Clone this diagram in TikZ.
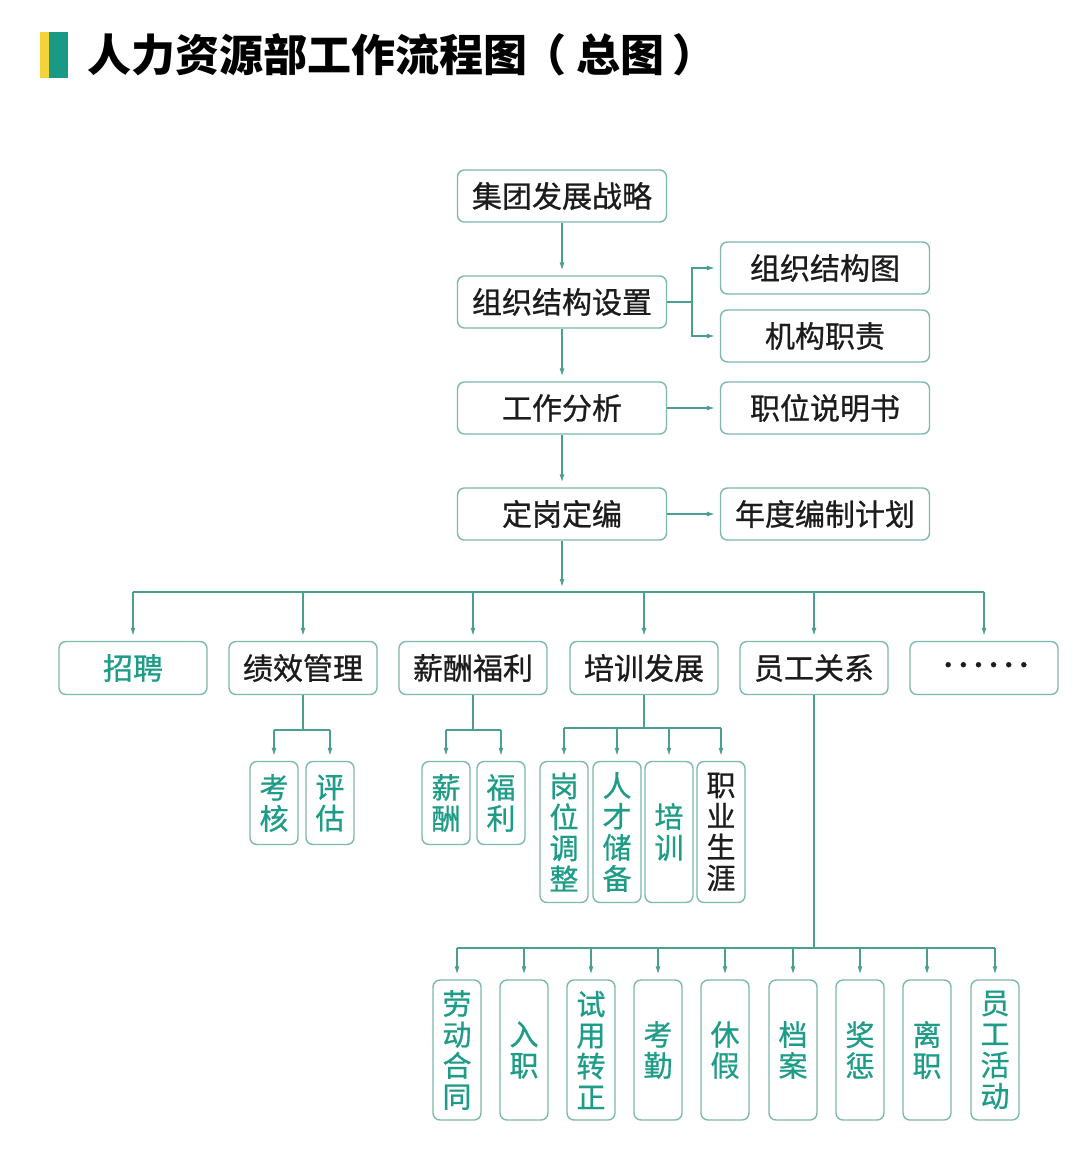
\documentclass[tikz,border=0pt]{standalone}
\usepackage{fontspec}
\newfontfamily\cjk[FakeBold=0.8]{Noto Sans CJK SC}
\newfontfamily\cjktitle{Noto Sans CJK SC}
\usetikzlibrary{arrows.meta}
\definecolor{hrteal}{HTML}{1E9C88}
\definecolor{boxline}{HTML}{7DB9AD}
\definecolor{linkc}{HTML}{4A9E92}
\definecolor{ink}{HTML}{1C1C1C}
\definecolor{baryellow}{HTML}{F3D23A}
\definecolor{barteal}{HTML}{1A9A86}
\tikzset{
  hrbox/.style={draw=boxline, line width=1.4pt, rounded corners=7pt, fill=white,
    inner sep=0pt, align=center, text=ink, font=\cjk\fontsize{30}{33}\selectfont},
  widebox/.style={hrbox, minimum width=209pt, minimum height=52pt},
  catbox/.style={hrbox, minimum width=148pt, minimum height=53pt},
  colbox/.style={hrbox, minimum width=48pt, text=hrteal, font=\cjk\fontsize{29}{31}\selectfont},
  link/.style={draw=linkc, line width=1.2pt},
  flow/.style={link, -{Latex[length=8pt,width=5pt]}, shorten >=5pt},
}
\begin{document}
\begin{tikzpicture}[x=1pt, y=-1pt]
  \useasboundingbox[fill=white] (0,0) rectangle (1073,1167);
  % title
  \fill[baryellow] (40,32) rectangle (49,78);
  \fill[barteal] (49,32) rectangle (68,78);
  \node[anchor=west, font=\cjktitle\bfseries\fontsize{44}{48}\selectfont, text=black] (title) at (84,55)
    {人力资源部工作流程图\hspace{-5pt}（\hspace{10pt}总图\hspace{8pt}）};
  % main column
  \node[widebox] (strategy) at (562,196) {集团发展战略};
  \node[widebox] (orgset) at (562,302) {组织结构设置};
  \node[widebox] (jobanal) at (562,408) {工作分析};
  \node[widebox] (staffing) at (562,514) {定岗定编};
  \node[widebox] (orgchart) at (825,268) {组织结构图};
  \node[widebox] (duties) at (825,336) {机构职责};
  \node[widebox] (jobdesc) at (825,408) {职位说明书};
  \node[widebox] (annualplan) at (825,514) {年度编制计划};
  \draw[flow] (strategy) -- (orgset);
  \draw[flow] (orgset) -- (jobanal);
  \draw[flow] (jobanal) -- (staffing);
  \coordinate (orgfork) at (692,302);
  \draw[link] (orgset) -- (orgfork);
  \draw[flow] (orgfork) |- (orgchart);
  \draw[flow] (orgfork) |- (duties);
  \draw[flow] (jobanal) -- (jobdesc);
  \draw[flow] (staffing) -- (annualplan);
  % second row
  \node[catbox, text=hrteal] (recruit) at (133,668) {招聘};
  \node[catbox] (perf) at (303,668) {绩效管理};
  \node[catbox] (pay) at (473,668) {薪酬福利};
  \node[catbox] (train) at (644,668) {培训发展};
  \node[catbox] (rel) at (814,668) {员工关系};
  \node[catbox, font=\cjk\fontsize{24}{26}\selectfont] (other) at (984,668)
    {\hspace{4pt}\raisebox{-2pt}{\addfontfeature{LetterSpace=-37}······}};
  \coordinate (bus) at (562,592);
  \draw[flow] (staffing) -- (bus);
  \draw[link] (recruit |- bus) -- (other |- bus);
  \foreach \n in {recruit,perf,pay,train,rel,other}
    \draw[flow] (\n |- bus) -- (\n);
  % performance and pay
  \node[colbox, minimum height=83pt] (kaohe) at (274,803) {考\\核};
  \node[colbox, minimum height=83pt] (pinggu) at (330,803) {评\\估};
  \node[colbox, minimum height=83pt] (salary) at (446,803) {薪\\酬};
  \node[colbox, minimum height=83pt] (welfare) at (501,803) {福\\利};
  \coordinate (perfbus) at (303,730);
  \coordinate (paybus) at (473,730);
  \draw[link] (perf) -- (perfbus);
  \draw[link] (kaohe |- perfbus) -- (pinggu |- perfbus);
  \draw[link] (pay) -- (paybus);
  \draw[link] (salary |- paybus) -- (welfare |- paybus);
  \foreach \n/\b in {kaohe/perfbus,pinggu/perfbus,salary/paybus,welfare/paybus}
    \draw[flow] (\n |- \b) -- (\n);
  % training
  \node[colbox, minimum height=141pt] (transfer) at (564,832) {岗\\位\\调\\整};
  \node[colbox, minimum height=141pt] (talent) at (617,832) {人\\才\\储\\备};
  \node[colbox, minimum height=141pt] (course) at (669,832) {培\\训};
  \node[colbox, minimum height=141pt, text=ink] (career) at (721,832) {职\\业\\生\\涯};
  \coordinate (trainbus) at (644,728);
  \draw[link] (train) -- (trainbus);
  \draw[link] (transfer |- trainbus) -- (career |- trainbus);
  \foreach \n in {transfer,talent,course,career}
    \draw[flow] (\n |- trainbus) -- (\n);
  % employee relations
  \foreach \n/\x/\t in {contract/457/劳\\动\\合\\同, entry/524/入\\职,
      probation/591/试\\用\\转\\正, attend/658/考\\勤, leave/725/休\\假,
      archive/793/档\\案, reward/860/奖\\惩, resign/927/离\\职,
      activity/995/员\\工\\活\\动}
    \node[colbox, minimum height=140pt] (\n) at (\x,1050) {\t};
  \coordinate (relbus) at (814,948);
  \draw[link] (rel) -- (relbus);
  \draw[link] (contract |- relbus) -- (activity |- relbus);
  \foreach \n in {contract,entry,probation,attend,leave,archive,reward,resign,activity}
    \draw[flow] (\n |- relbus) -- (\n);
\end{tikzpicture}
\end{document}
